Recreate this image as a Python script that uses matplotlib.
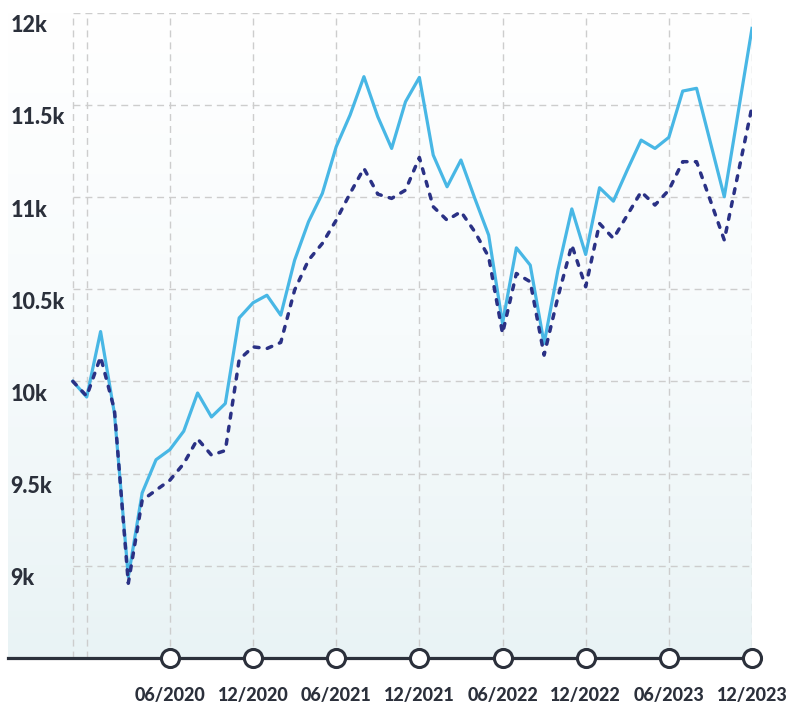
import numpy as np
import pandas as pd
import matplotlib
matplotlib.use("Agg")
import matplotlib.pyplot as plt
from matplotlib.colors import LinearSegmentedColormap
from matplotlib.transforms import blended_transform_factory

# monthly values, 11/2019 .. 12/2023
months = pd.date_range("2019-11-01", "2023-12-01", freq="MS")

fund = [10000, 9915, 10270, 9825, 8940, 9395, 9575, 9630, 9730, 9937,
        9807, 9880, 10344, 10426, 10467, 10359, 10657, 10865, 11019, 11272,
        11444, 11652, 11435, 11263, 11516, 11648, 11227, 11055, 11200, 10992,
        10793, 10314, 10724, 10630, 10205, 10603, 10935, 10688, 11050, 10977,
        11146, 11308, 11263, 11323, 11574, 11589, 11295, 11001, 11457, 11914]

benchmark = [10000, 9920, 10133, 9845, 8905, 9355, 9410, 9464, 9554, 9688,
             9600, 9625, 10118, 10187, 10178, 10211, 10495, 10657, 10748, 10874,
             11019, 11155, 11015, 10992, 11037, 11214, 10947, 10874, 10920, 10811,
             10675, 10260, 10585, 10540, 10142, 10458, 10739, 10513, 10856, 10775,
             10901, 11028, 10956, 11037, 11191, 11191, 10980, 10766, 11128, 11489]

tick_labels = ["06/2020", "12/2020", "06/2021", "12/2021",
               "06/2022", "12/2022", "06/2023", "12/2023"]
y_levels = [9000, 9500, 10000, 10500, 11000, 11500, 12000]
y_labels = ["9k", "9.5k", "10k", "10.5k", "11k", "11.5k", "12k"]

x = np.arange(len(months))
month_str = [m.strftime("%m/%Y") for m in months]
tick_pos = [month_str.index(t) for t in tick_labels]
vgrid_pos = [0, 1] + tick_pos

dark = "#2b303b"
light_blue = "#48b7e5"
navy = "#2a3185"
grid_c = "#cdcdcd"

plt.rcParams["font.family"] = ["Lato", "DejaVu Sans"]

fig = plt.figure(figsize=(7.87, 7.08), dpi=100)
ax = fig.add_axes([8 / 787, 1 - 658 / 708, 744 / 787, (658 - 12.5) / 708])
x0 = -4.68
ax.set_xlim(x0, len(x) - 1)
ax.set_ylim(8500, 12000)

# soft background gradient, white at top
cmap = LinearSegmentedColormap.from_list("bg", ["#ffffff", "#f7fbfc", "#e9f3f5"])
grad = np.linspace(0, 1, 256).reshape(-1, 1)
ax.imshow(grad, cmap=cmap, aspect="auto", origin="upper",
          extent=[x0, len(x) - 1, 8500, 12000], zorder=0)

# dashed grid
ax.hlines(y_levels, 0, len(x) - 1, colors=grid_c, linewidth=1.0,
          linestyles=(0, (5, 3.6)), zorder=1)
ax.vlines(vgrid_pos, 8500, 12000, colors=grid_c, linewidth=1.0,
          linestyles=(0, (5, 3.6)), zorder=1)

ax.plot(x, fund, color=light_blue, linewidth=2.3, zorder=3)
ax.plot(x, benchmark, color=navy, linewidth=2.5, dashes=(1.4, 2.4),
        dash_capstyle="round", zorder=4)

for s in ["top", "left", "right"]:
    ax.spines[s].set_visible(False)
ax.spines["bottom"].set_color(dark)
ax.spines["bottom"].set_linewidth(2.3)
ax.spines["bottom"].set_zorder(5)

ax.plot(tick_pos, [8500] * len(tick_pos), "o", ms=13, mfc="white", mec=dark,
        mew=2.2, clip_on=False, zorder=6)

ax.set_xticks(tick_pos)
ax.set_xticklabels(tick_labels, fontsize=13, fontweight="black", color=dark)
ax.tick_params(axis="x", length=0, pad=21)
ax.set_yticks([])

trans = blended_transform_factory(ax.transAxes, ax.transData)
for v, lab in zip(y_levels, y_labels):
    ax.annotate(lab, xy=(0.003, v), xycoords=trans, xytext=(0, -9.5),
                textcoords="offset points", ha="left", va="center",
                fontsize=15.5, fontweight="black", color=dark, zorder=7)

fig.savefig("out.png", dpi=100)
